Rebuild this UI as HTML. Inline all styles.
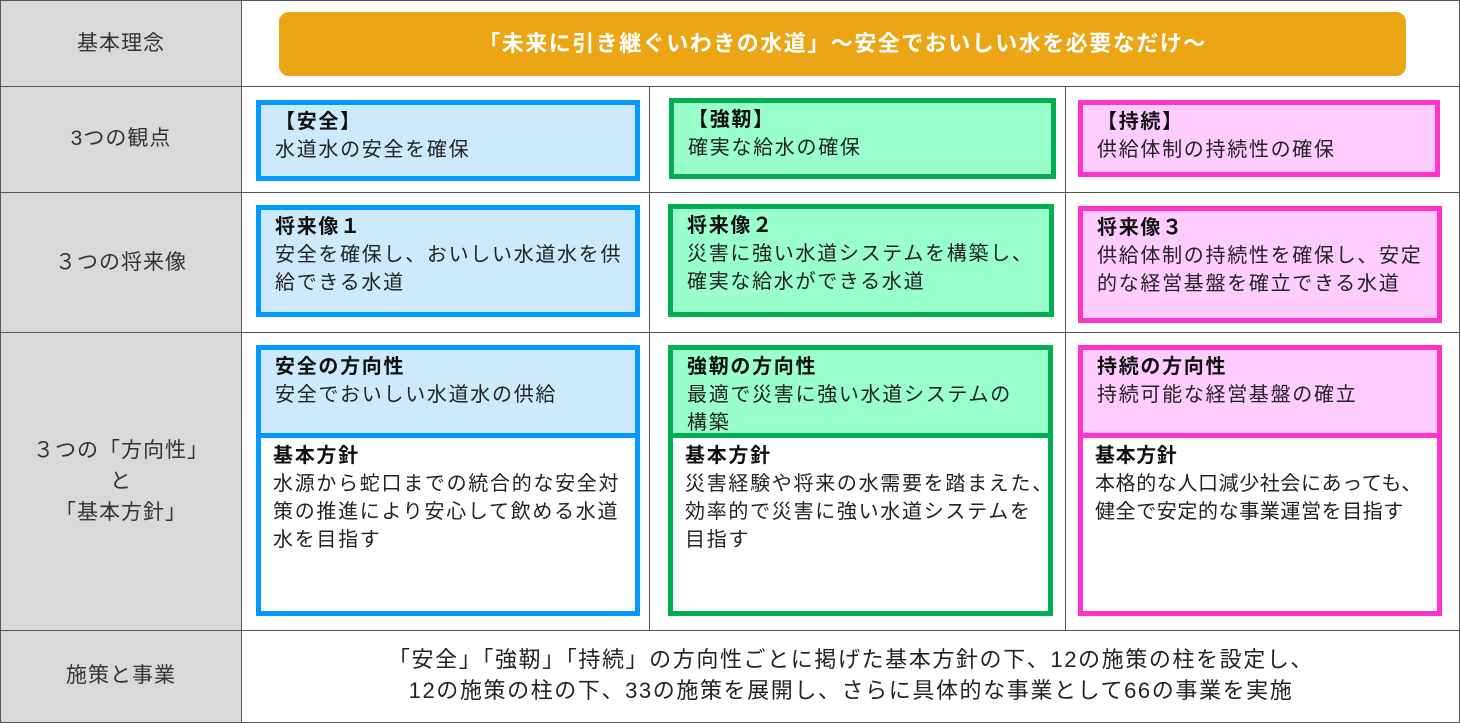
<!DOCTYPE html>
<html><head><meta charset="utf-8"><style>
body{margin:0;width:1460px;height:723px;background:#fff;position:relative;overflow:hidden;font-family:"Liberation Sans","Noto Sans CJK JP",sans-serif;color:#222}
.a{position:absolute;box-sizing:border-box}
.h{background:#d9d9d9}
.ln{position:absolute;background:#555}
.bx{position:absolute;box-sizing:border-box;border:5px solid;padding:3px 0 0 14px;font-size:20px;line-height:28px;letter-spacing:1.7px;white-space:nowrap}
.t{position:absolute;font-size:20px;line-height:28px;letter-spacing:1.7px;white-space:nowrap}
b{font-weight:bold;color:#111}
.lbl{position:absolute;left:0;width:242px;text-align:center;font-size:21px;line-height:31px;color:#333;letter-spacing:1px}
</style></head><body>
<div class="a h" style="left:0;top:0;width:242px;height:723px"></div>
<div class="ln" style="left:0;top:0;width:1460px;height:1px"></div>
<div class="ln" style="left:0;top:722px;width:1460px;height:1px"></div>
<div class="ln" style="left:0;top:0;width:1px;height:723px"></div>
<div class="ln" style="left:1459px;top:0;width:1px;height:723px"></div>
<div class="ln" style="left:241px;top:0;width:1px;height:723px"></div>
<div class="ln" style="left:0;top:86px;width:1460px;height:1px"></div>
<div class="ln" style="left:0;top:192px;width:1460px;height:1px"></div>
<div class="ln" style="left:0;top:332px;width:1460px;height:1px"></div>
<div class="ln" style="left:0;top:630px;width:1460px;height:1px"></div>
<div class="ln" style="left:649px;top:86px;width:1px;height:544px"></div>
<div class="ln" style="left:1065px;top:86px;width:1px;height:544px"></div>

<div class="lbl" style="top:28px">基本理念</div>
<div class="lbl" style="top:123px">3つの観点</div>
<div class="lbl" style="top:247px">３つの将来像</div>
<div class="lbl" style="top:435px">３つの「方向性」<br>と<br>「基本方針」</div>
<div class="lbl" style="top:660px">施策と事業</div>

<div class="a" style="left:279px;top:12px;width:1127px;height:64px;background:#eba515;border-radius:10px;color:#fff;font-weight:bold;font-size:22px;letter-spacing:1.5px;text-align:center;line-height:64px;white-space:nowrap">「未来に引き継ぐいわきの水道」～安全でおいしい水を必要なだけ～</div>

<div class="bx" style="left:256px;top:100px;width:384px;height:81px;border-color:#0099ff;background:#cdeafd"><b>【安全】</b><br>水道水の安全を確保</div>
<div class="bx" style="left:669px;top:98px;width:387px;height:81px;border-color:#00b050;background:#99ffcc"><b>【強靭】</b><br>確実な給水の確保</div>
<div class="bx" style="left:1078px;top:100px;width:362px;height:77px;border-color:#ff33cc;background:#ffccff"><b>【持続】</b><br>供給体制の持続性の確保</div>

<div class="bx" style="left:256px;top:205px;width:384px;height:112px;border-color:#0099ff;background:#cdeafd"><b>将来像１</b><br>安全を確保し、おいしい水道水を供<br>給できる水道</div>
<div class="bx" style="left:668px;top:204px;width:386px;height:113px;border-color:#00b050;background:#99ffcc"><b>将来像２</b><br>災害に強い水道システムを構築し、<br>確実な給水ができる水道</div>
<div class="bx" style="left:1078px;top:206px;width:364px;height:117px;border-color:#ff33cc;background:#ffccff"><b>将来像３</b><br>供給体制の持続性を確保し、安定<br>的な経営基盤を確立できる水道</div>

<div class="bx" style="left:256px;top:345px;width:384px;height:271px;border-color:#0099ff;background:#fff;padding:0"></div>
<div class="bx" style="left:256px;top:345px;width:384px;height:93px;border-color:#0099ff;background:#cdeafd"><b>安全の方向性</b><br>安全でおいしい水道水の供給</div>
<div class="t" style="left:273px;top:442px"><b>基本方針</b><br>水源から蛇口までの統合的な安全対<br>策の推進により安心して飲める水道<br>水を目指す</div>

<div class="bx" style="left:668px;top:345px;width:385px;height:271px;border-color:#00b050;background:#fff;padding:0"></div>
<div class="bx" style="left:668px;top:345px;width:385px;height:93px;border-color:#00b050;background:#99ffcc"><b>強靭の方向性</b><br>最適で災害に強い水道システムの<br>構築</div>
<div class="t" style="left:685px;top:442px"><b>基本方針</b><br>災害経験や将来の水需要を踏まえた、<br>効率的で災害に強い水道システムを<br>目指す</div>

<div class="bx" style="left:1078px;top:345px;width:364px;height:271px;border-color:#ff33cc;background:#fff;padding:0"></div>
<div class="bx" style="left:1078px;top:345px;width:364px;height:93px;border-color:#ff33cc;background:#ffccff"><b>持続の方向性</b><br>持続可能な経営基盤の確立</div>
<div class="t" style="left:1095px;top:442px;letter-spacing:0.6px"><b>基本方針</b><br>本格的な人口減少社会にあっても、<br>健全で安定的な事業運営を目指す</div>

<div class="a" style="left:242px;top:644px;width:1218px;text-align:center;font-size:22px;line-height:31px;letter-spacing:1.6px;color:#222;white-space:nowrap">「安全」「強靭」「持続」の方向性ごとに掲げた基本方針の下、12の施策の柱を設定し、<br>12の施策の柱の下、33の施策を展開し、さらに具体的な事業として66の事業を実施</div>
</body></html>
